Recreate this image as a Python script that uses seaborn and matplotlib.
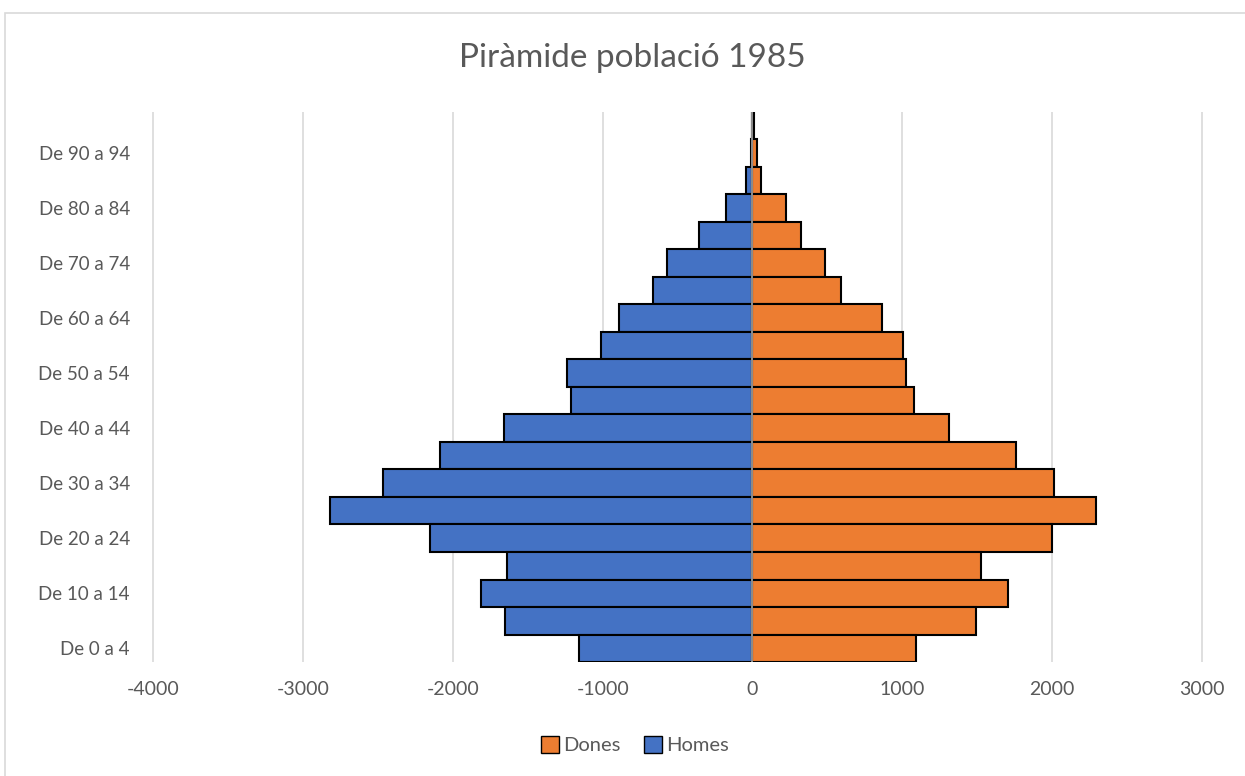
import pandas as pd
import matplotlib.pyplot as plt
import seaborn as sns
from matplotlib.patches import Patch, Rectangle

# grups d'edat, de baix (0-4) a dalt (95-99)
edats = ["De 0 a 4", "De 5 a 9", "De 10 a 14", "De 15 a 19", "De 20 a 24",
         "De 25 a 29", "De 30 a 34", "De 35 a 39", "De 40 a 44", "De 45 a 49",
         "De 50 a 54", "De 55 a 59", "De 60 a 64", "De 65 a 69", "De 70 a 74",
         "De 75 a 79", "De 80 a 84", "De 85 a 89", "De 90 a 94", "De 95 a 99"]
homes = [-1160, -1650, -1813, -1636, -2152, -2820, -2466, -2083, -1657, -1209,
         -1240, -1013, -891, -665, -568, -360, -175, -45, -10, -3]
dones = [1095, 1495, 1705, 1528, 1997, 2296, 2015, 1762, 1314, 1081,
         1025, 1003, 865, 594, 484, 324, 222, 55, 28, 10]
xticks = [-4000, -3000, -2000, -1000, 0, 1000, 2000, 3000]

blau = "#4472C4"
taronja = "#ED7D31"
gris = "#595959"

df = pd.DataFrame({
    "edat": edats * 2,
    "valor": homes + dones,
    "sexe": ["Homes"] * len(edats) + ["Dones"] * len(edats),
})

sns.set_style("white")
plt.rcParams["font.family"] = ["Lato", "DejaVu Sans"]

fig = plt.figure(figsize=(12.45, 7.76), dpi=100)
ax = fig.add_axes([0.1221, 0.1469, 0.8442, 0.7088])

ordre = edats[::-1]  # seaborn posa la primera categoria a dalt
sns.barplot(data=df, y="edat", x="valor", hue="sexe", order=ordre,
            hue_order=["Homes", "Dones"], palette={"Homes": blau, "Dones": taronja},
            saturation=1, orient="h", dodge=False, width=1.0, edgecolor="black",
            linewidth=1.5, legend=False, ax=ax, zorder=2)

ax.set_xlim(-4008, 3008)
ax.set_ylim(len(edats) - 0.5, -0.5)
ax.set_xticks(xticks)
ax.set_xticklabels([str(t) for t in xticks], color=gris, fontsize=14)
pos = [ordre.index(e) for e in edats[::2]]
ax.set_yticks(pos)
ax.set_yticklabels(edats[::2], color=gris, fontsize=13.5)
ax.tick_params(axis="y", length=0, pad=16)
ax.tick_params(axis="x", length=0, pad=14)
ax.set_xlabel("")
ax.set_ylabel("")
for s in ax.spines.values():
    s.set_visible(False)
ax.xaxis.grid(True, color="#d9d9d9", linewidth=1.2, zorder=0)
ax.set_axisbelow(True)
ax.axvline(0, color="#a6a6a6", linewidth=1.2, zorder=5)

fig.text(0.508, 0.925, "Piràmide població 1985", ha="center", va="center",
         fontsize=24, color=gris)

handles = [Patch(facecolor=taronja, edgecolor="black", label="Dones"),
           Patch(facecolor=blau, edgecolor="black", label="Homes")]
fig.legend(handles=handles, loc="center", bbox_to_anchor=(0.51, 0.04), ncol=2,
           frameon=False, fontsize=14.5, labelcolor=gris, handlelength=0.9,
           handleheight=0.9, handletextpad=0.2, columnspacing=1.2)

fig.patches.append(Rectangle((0.004, -0.01), 1.0, 0.993, transform=fig.transFigure,
                             fill=False, edgecolor="#d9d9d9", linewidth=1.2))

plt.savefig("out.png", dpi=100)
plt.close()
